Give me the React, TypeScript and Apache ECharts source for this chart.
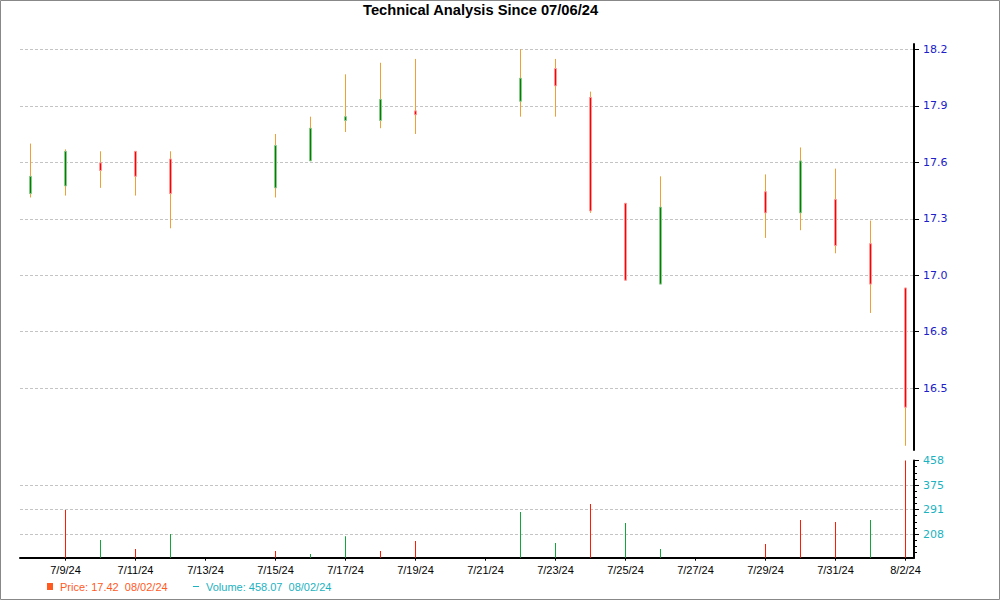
import React, { useEffect, useRef } from "react";
import * as echarts from "echarts";

// ---- Data ----
const dates = [
  "7/8/24", "7/9/24", "7/10/24", "7/11/24", "7/12/24",
  "7/15/24", "7/16/24", "7/17/24", "7/18/24", "7/19/24",
  "7/22/24", "7/23/24", "7/24/24", "7/25/24", "7/26/24",
  "7/29/24", "7/30/24", "7/31/24", "8/1/24", "8/2/24",
];
const opens = [17.47, 17.51, 17.63, 17.69, 17.65, 17.50, 17.64, 17.85, 17.85, 17.90, 17.95, 18.12, 17.97, 17.42, 17.00, 17.48, 17.37, 17.44, 17.21, 16.98];
const closes = [17.56, 17.69, 17.59, 17.56, 17.47, 17.72, 17.81, 17.87, 17.96, 17.88, 18.07, 18.03, 17.38, 17.02, 17.40, 17.37, 17.64, 17.20, 17.00, 16.36];
const lows = [17.45, 17.46, 17.50, 17.46, 17.29, 17.45, 17.64, 17.79, 17.81, 17.78, 17.87, 17.87, 17.37, 17.02, 17.00, 17.24, 17.28, 17.16, 16.85, 16.16];
const highs = [17.73, 17.70, 17.69, 17.69, 17.69, 17.78, 17.87, 18.09, 18.15, 18.17, 18.22, 18.17, 18.00, 17.42, 17.56, 17.57, 17.71, 17.60, 17.33, 16.98];
const volumes = [null, 289.9, 188.0, 157.5, 208.4, 150.7, 140.5, 200.6, 150.7, 184.7, 283.2, 177.9, 310.3, 245.8, 157.5, 174.5, 256.0, 249.2, 256.0, 458.07];
const volumeDirection = [null, "down", "up", "down", "up", "down", "up", "up", "down", "down", "up", "up", "down", "up", "up", "down", "down", "down", "up", "down"];

const xTickLabels = ["7/9/24", "7/11/24", "7/13/24", "7/15/24", "7/17/24", "7/19/24", "7/21/24", "7/23/24", "7/25/24", "7/27/24", "7/29/24", "7/31/24", "8/2/24"];
const priceTicks = [16.459, 16.7525, 17.046, 17.3395, 17.633, 17.9265, 18.22];
const volumeTicks = [208.07, 291.4, 374.74, 458.07];

const titleText = "Technical Analysis Since 07/06/24";
const priceLegend = "Price: 17.42  08/02/24";
const volumeLegend = "Volume: 458.07  08/02/24";

// ---- helpers ----
const dayNum = (s: string) => {
  const [m, d, y] = s.split("/").map(Number);
  return Date.UTC(2000 + y, m - 1, d) / 86400000;
};
const base = dayNum(dates[0]);
const offsets = dates.map((d) => dayNum(d) - base);
const tickOffsets = xTickLabels.map((d) => dayNum(d) - base);

const X_MIN = -0.3;
const X_MAX = -0.3 + 894 / 35;
const P_MIN = 16.138;
const P_MAX = 18.2475;
const V_MIN = 128;
const V_MAX = 458.07;

const minorVolumeTicks: number[] = [];
for (let i = 0; i < volumeTicks.length - 1; i++) {
  const a = volumeTicks[i], b = volumeTicks[i + 1];
  for (let k = 1; k < 4; k++) minorVolumeTicks.push(a + ((b - a) * k) / 4);
}
{
  const step = (volumeTicks[1] - volumeTicks[0]) / 4;
  for (let v = volumeTicks[0] - step; v > V_MIN; v -= step) minorVolumeTicks.push(v);
}

const WICK = "#f0a030";
const UP = "#008000";
const DOWN = "#ff0000";
const PRICE_LABEL = "#2020c8";
const VOL_LABEL = "#1cb2bf";
const LEGEND_PRICE = "#ff5a1f";
const GRID_LINE = "#c4c4c4";

export default function App() {
  const ref = useRef<HTMLDivElement>(null);

  useEffect(() => {
    if (!ref.current) return;
    const chart = echarts.init(ref.current, undefined, { renderer: "svg" });

    const wickData = dates.map((_, i) => [offsets[i], opens[i], closes[i], lows[i], highs[i]]);
    const bodyData = dates.map((_, i) => [
      offsets[i], opens[i], closes[i], Math.min(opens[i], closes[i]), Math.max(opens[i], closes[i]),
    ]);
    const volData = dates
      .map((_, i) =>
        volumes[i] == null
          ? null
          : {
              value: [offsets[i], volumes[i]],
              itemStyle: { color: volumeDirection[i] === "up" ? "#12a538" : "#ff1a00" },
            }
      )
      .filter((d) => d !== null);

    const labelByOffset: Record<string, string> = {};
    tickOffsets.forEach((o, i) => (labelByOffset[String(o)] = xTickLabels[i]));

    chart.setOption({
      animation: false,
      backgroundColor: "#fff",
      title: {
        text: titleText,
        left: 363,
        top: 2,
        padding: 0,
        textStyle: { fontFamily: "Liberation Sans", fontWeight: "bold", fontSize: 14.7, color: "#000" },
      },
      grid: [
        { left: 20, right: 86, top: 44, bottom: 150 },
        { left: 20, right: 86, top: 460.5, bottom: 42.3 },
      ],
      xAxis: [
        { gridIndex: 0, type: "value", min: X_MIN, max: X_MAX, show: false },
        {
          gridIndex: 1,
          type: "value",
          min: X_MIN,
          max: X_MAX,
          axisLine: { show: true, onZero: false, lineStyle: { color: "#000", width: 2 } },
          axisTick: { show: true, customValues: tickOffsets, length: 3, lineStyle: { color: "#000", width: 1 } },
          axisLabel: {
            customValues: tickOffsets,
            formatter: (v: number) => labelByOffset[String(Math.round(v))] || "",
            color: "#000",
            fontFamily: "Liberation Sans",
            fontSize: 11,
            margin: 7,
          },
          splitLine: { show: false },
        },
      ],
      yAxis: [
        {
          gridIndex: 0,
          type: "value",
          position: "right",
          min: P_MIN,
          max: P_MAX,
          axisLine: { show: true, onZero: false, lineStyle: { color: "#000", width: 2 } },
          axisTick: { show: true, customValues: priceTicks, length: 5, lineStyle: { color: "#000", width: 1 } },
          axisLabel: {
            customValues: priceTicks,
            formatter: (v: number) => v.toFixed(1),
            color: PRICE_LABEL,
            fontFamily: "DejaVu Sans",
            fontSize: 11,
            margin: 9,
          },
          splitLine: { show: true, lineStyle: { color: GRID_LINE, type: [3, 2], width: 1 } },
        },
        {
          gridIndex: 1,
          type: "value",
          position: "right",
          min: V_MIN,
          max: V_MAX,
          axisLine: { show: true, onZero: false, lineStyle: { color: "#000", width: 2 } },
          axisTick: { show: true, customValues: volumeTicks, length: 5, lineStyle: { color: "#000", width: 1 } },
          axisLabel: {
            customValues: volumeTicks,
            formatter: (v: number) => String(Math.round(v)),
            color: VOL_LABEL,
            fontFamily: "DejaVu Sans",
            fontSize: 11,
            margin: 9,
          },
          splitLine: { show: true, showMaxLine: false, lineStyle: { color: GRID_LINE, type: [3, 2], width: 1 } },
        },
        {
          gridIndex: 1,
          type: "value",
          position: "right",
          min: V_MIN,
          max: V_MAX,
          axisLine: { show: false, onZero: false },
          axisTick: { show: true, customValues: minorVolumeTicks, length: 3, lineStyle: { color: "#000", width: 1 } },
          axisLabel: { show: false },
          splitLine: { show: false },
        },
      ],
      series: [
        {
          type: "candlestick",
          xAxisIndex: 0,
          yAxisIndex: 0,
          encode: { x: 0, y: [1, 2, 3, 4] },
          data: wickData,
          barWidth: 1,
          silent: true,
          itemStyle: { color: WICK, color0: WICK, borderColor: WICK, borderColor0: WICK, borderWidth: 1 },
        },
        {
          type: "candlestick",
          xAxisIndex: 0,
          yAxisIndex: 0,
          encode: { x: 0, y: [1, 2, 3, 4] },
          data: bodyData,
          barWidth: 3,
          silent: true,
          itemStyle: { color: UP, color0: DOWN, borderColor: "#8cc98c", borderColor0: "#ff9a9a", borderWidth: 1 },
        },
        {
          type: "bar",
          xAxisIndex: 1,
          yAxisIndex: 1,
          data: volData,
          barWidth: 1,
          silent: true,
        },
      ],
      graphic: [
        {
          type: "rect",
          shape: { x: 0.5, y: 0.5, width: 999, height: 599 },
          style: { fill: "none", stroke: "#888", lineWidth: 1 },
          silent: true,
        },
        {
          type: "rect",
          shape: { x: 47, y: 583, width: 6, height: 7 },
          style: { fill: LEGEND_PRICE },
          silent: true,
        },
        {
          type: "text",
          x: 60,
          y: 587,
          style: {
            text: priceLegend,
            fill: LEGEND_PRICE,
            font: "11px 'Liberation Sans'",
            textVerticalAlign: "middle",
            verticalAlign: "middle",
          },
          silent: true,
        },
        {
          type: "line",
          shape: { x1: 193, y1: 586.5, x2: 199, y2: 586.5 },
          style: { stroke: VOL_LABEL, lineWidth: 1 },
          silent: true,
        },
        {
          type: "text",
          x: 206,
          y: 587,
          style: {
            text: volumeLegend,
            fill: VOL_LABEL,
            font: "11px 'Liberation Sans'",
            textVerticalAlign: "middle",
            verticalAlign: "middle",
          },
          silent: true,
        },
      ],
    });

    return () => chart.dispose();
  }, []);

  return (
    <div
      ref={ref}
      style={{ position: "fixed", left: 0, top: 0, width: 1000, height: 600, background: "#fff" }}
    />
  );
}
